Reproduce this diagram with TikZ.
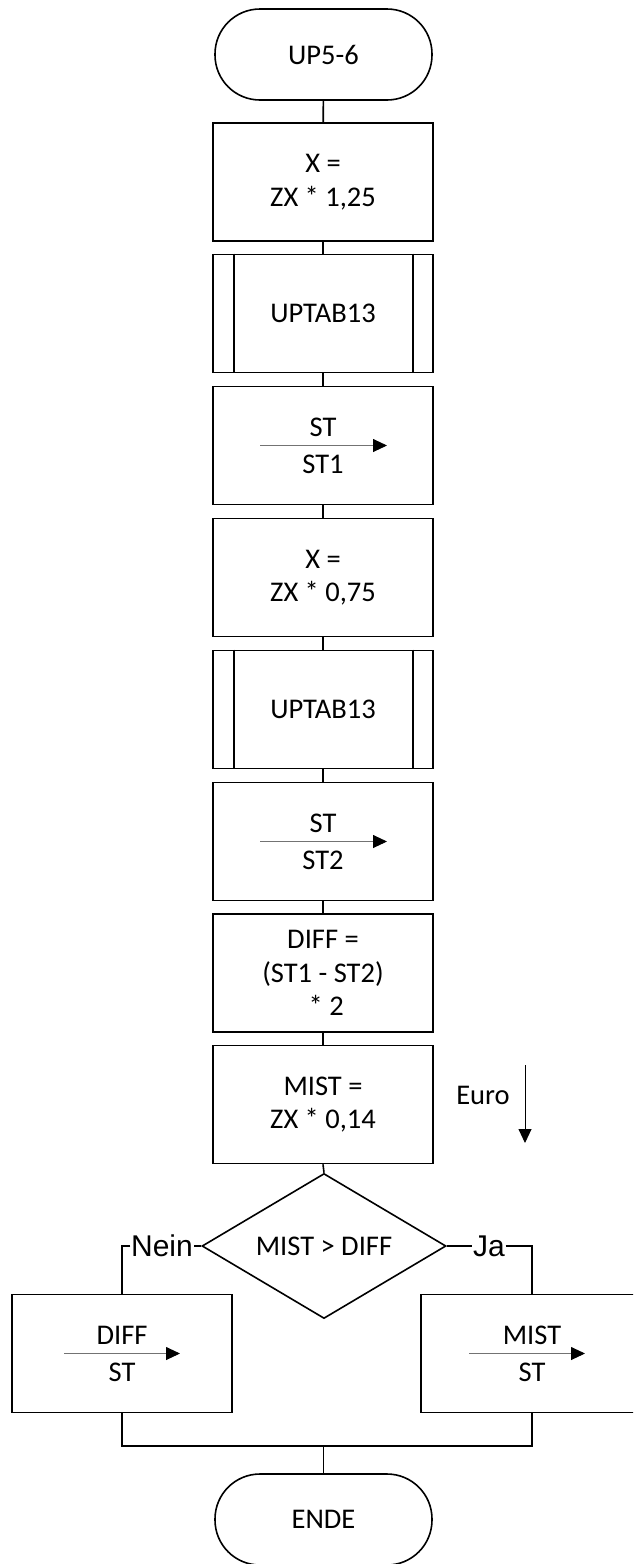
\documentclass[tikz,border=0pt]{standalone}
\usepackage{fontspec}
\setmainfont{Carlito}
\newfontfamily\labfont{Liberation Sans}
\usetikzlibrary{shapes.geometric,arrows.meta}
\begin{document}
\begin{tikzpicture}[x=1pt,y=-1pt,line width=1.6pt,
  every node/.style={font=\fontsize{28.5}{33.5}\selectfont},
  proc/.style={draw,minimum width=220pt,minimum height=118pt,align=center,inner sep=0pt},
  term/.style={draw,rounded corners=45pt,minimum width=217pt,minimum height=91pt,inner sep=0pt},
  txt/.style={inner sep=0pt},
  lab/.style={inner sep=0pt,font=\labfont\fontsize{30}{32}\selectfont},
  stline/.style={line width=0.9pt,draw=black!55,-{Triangle[length=14pt,width=13pt,black]}},
  euroline/.style={line width=0.9pt,-{Triangle[length=14pt,width=13pt]}},
  conn/.style={line width=1.6pt}]
\useasboundingbox (0,0) rectangle (633,1564);
\clip (0,0) rectangle (633,1564);

% terminals and process boxes
\node[term] (start) at (323.5,54.5) {UP5-6};
\node[proc] (b1) at (323,182) {X =\\ZX * 1,25};
\node[proc] (b2) at (323,313.5) {UPTAB13};
\draw ([xshift=22pt]b2.north west) -- ([xshift=22pt]b2.south west);
\draw ([xshift=-21pt]b2.north east) -- ([xshift=-21pt]b2.south east);
\node[proc] (b3) at (323,445.5) {};
\node[txt] (b3a) at ([yshift=18pt]b3.center) {ST};
\node[txt] (b3b) at ([yshift=-19pt]b3.center) {ST1};
\draw[stline] ([xshift=-63pt]b3.center) -- ([xshift=64pt]b3.center);
\node[proc] (b4) at (323,577.5) {X =\\ZX * 0,75};
\node[proc] (b5) at (323,709.5) {UPTAB13};
\draw ([xshift=22pt]b5.north west) -- ([xshift=22pt]b5.south west);
\draw ([xshift=-21pt]b5.north east) -- ([xshift=-21pt]b5.south east);
\node[proc] (b6) at (323,841.5) {};
\node[txt] (b6a) at ([yshift=18pt]b6.center) {ST};
\node[txt] (b6b) at ([yshift=-19pt]b6.center) {ST2};
\draw[stline] ([xshift=-63pt]b6.center) -- ([xshift=64pt]b6.center);
\node[proc] (b7) at (323,973) {DIFF =\\(ST1 - ST2)\\ \ * 2};
\node[proc] (b8) at (323,1104.5) {MIST =\\ZX * 0,14};

% Euro note
\node[txt] (euro) at (483,1095) {Euro};
\coordinate (ea) at (525,1065);
\coordinate (eb) at (525,1143);
\draw[euroline] (ea) -- (eb);

% decision
\node[draw,diamond,aspect=1.68,minimum width=244pt,minimum height=145pt,inner sep=0pt] (dec) at (324,1246) {MIST > DIFF};
\node[lab] (nein) at (162,1246) {Nein};
\node[lab] (ja) at (489,1246) {Ja};

% branch boxes
\node[proc] (lb) at (122,1353.5) {};
\node[txt] (lba) at ([yshift=18pt]lb.center) {DIFF};
\node[txt] (lbb) at ([yshift=-19pt]lb.center) {ST};
\draw[stline] ([xshift=-58pt]lb.center) -- ([xshift=58pt]lb.center);
\node[proc,minimum width=222pt] (rb) at (532,1353.5) {};
\node[txt] (rba) at ([yshift=18pt]rb.center) {MIST};
\node[txt] (rbb) at ([yshift=-19pt]rb.center) {ST};
\draw[stline] ([xshift=-63pt]rb.center) -- ([xshift=53pt]rb.center);

\node[term] (ende) at (323.5,1519.5) {ENDE};

% connectors
\draw[conn] (start) -- (b1);
\draw[conn] (b1) -- (b2);
\draw[conn] (b2) -- (b3);
\draw[conn] (b3) -- (b4);
\draw[conn] (b4) -- (b5);
\draw[conn] (b5) -- (b6);
\draw[conn] (b6) -- (b7);
\draw[conn] (b7) -- (b8);
\draw[conn] (b8.south) -- (dec.north);
\draw[conn] (dec.west) -- (nein.east);
\draw[conn] (nein.west) -| (lb.north);
\draw[conn] (dec.east) -- (ja.west);
\draw[conn] (ja.east) -| (rb.north);
\coordinate (mj) at (323.5,1446);
\draw[conn] (lb.south) -- (lb.south |- mj) -- (rb.south |- mj) -- (rb.south);
\draw[conn] (mj) -- (ende.north);
\end{tikzpicture}
\end{document}
